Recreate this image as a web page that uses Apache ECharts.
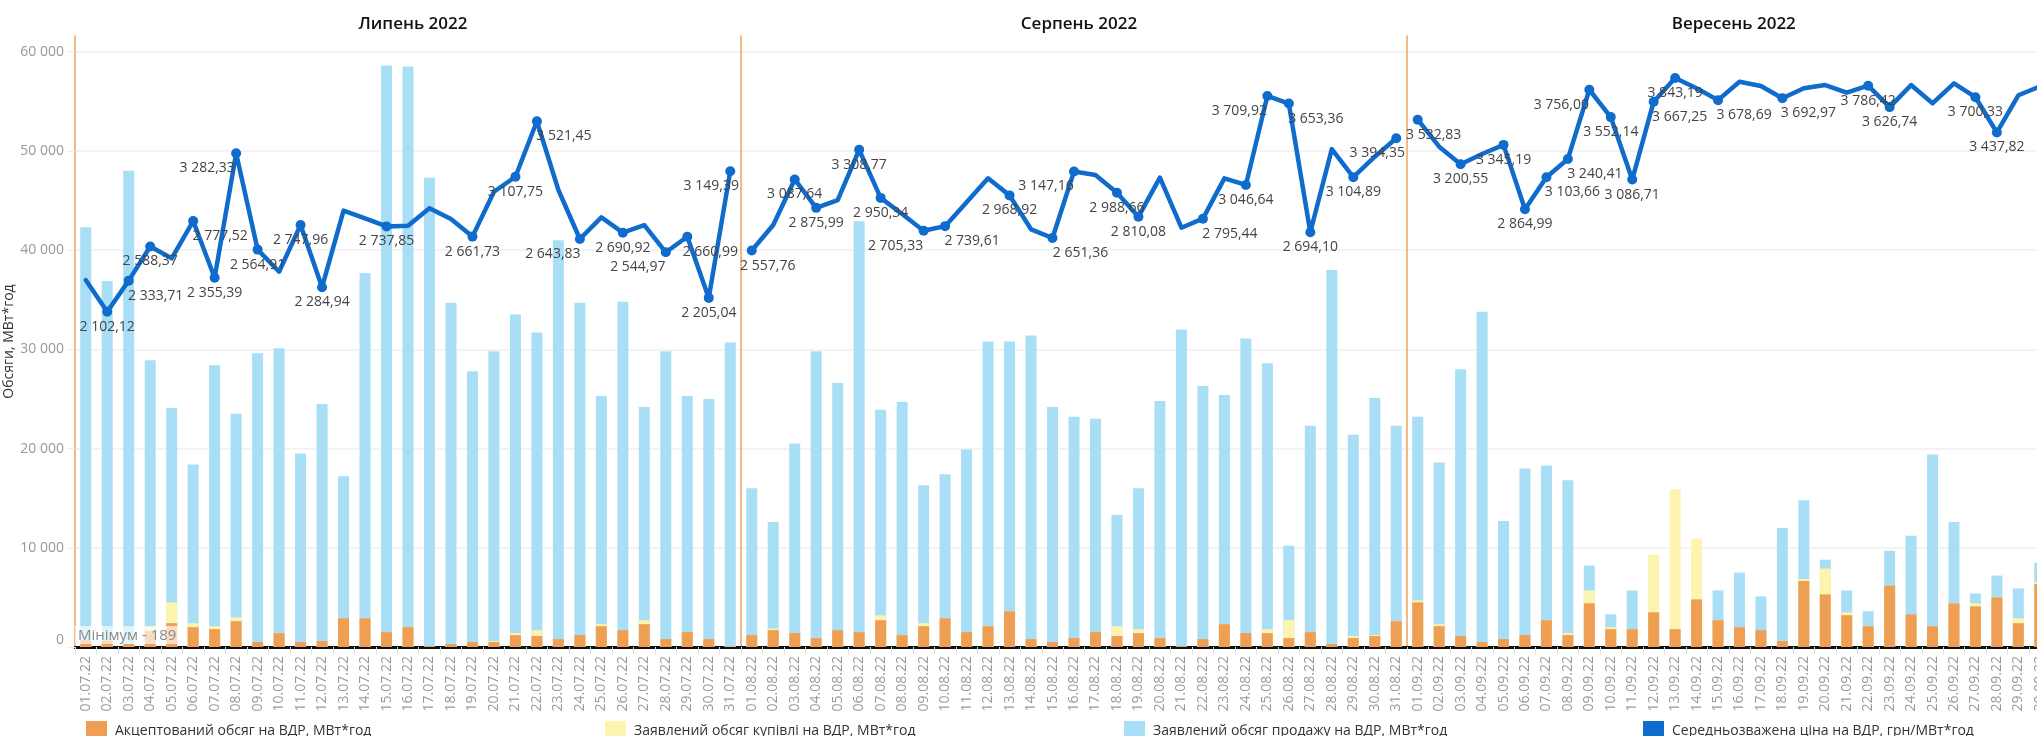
<!DOCTYPE html>
<html>
<head>
<meta charset="utf-8">
<title>ВДР, липень–вересень 2022</title>
<script src="https://cdn.jsdelivr.net/npm/echarts@6/dist/echarts.min.js"></script>
<style>
  html, body { margin: 0; padding: 0; background: #fff; }
  #chart { width: 2037px; height: 736px; }
</style>
</head>
<body>
<div id="chart"></div>
<script>
// --- дані ---
const monthTitles = ['Липень 2022', 'Серпень 2022', 'Вересень 2022'];

const dayLabels = (mm, n) =>
  Array.from({ length: n }, (_, i) => String(i + 1).padStart(2, '0') + '.' + mm + '.22');
const julyDays = dayLabels('07', 31);
const augDays = dayLabels('08', 31);
const sepDays = dayLabels('09', 30);

// Заявлений обсяг продажу, МВт*год
const julySell = [42300, 36900, 48000, 28900, 24100, 18400, 28400, 23500, 29600, 30100, 19500, 24500, 17200, 37700, 58600, 58500,
  47300, 34700, 27800, 29800, 33500, 31700, 41000, 34700, 25300, 34800, 24200, 29800, 25300, 25000, 30700];
const augSell = [16000, 12600, 20500, 29800, 26600, 42900, 23900, 24700, 16300, 17400, 19900, 30800, 30800, 31400, 24200, 23200,
  23000, 13300, 16000, 24800, 32000, 26300, 25400, 31100, 28600, 10200, 22300, 38000, 21400, 25100, 22300];
const sepSell = [23200, 18600, 28000, 33800, 12700, 18000, 18300, 16800, 8200, 3300, 5700, 3500, 1800, 4800, 5700, 7500,
  5100, 12000, 14800, 8800, 5700, 3600, 9700, 11200, 19400, 12600, 5400, 7200, 5900, 8500];

// Заявлений обсяг купівлі, МВт*год
const julyBuy = [700, 650, 300, 2050, 4500, 2400, 2100, 3000, 500, 1400, 500, 600, 2900, 2900, 1500, 2000,
  100, 300, 500, 600, 1400, 1700, 800, 1200, 2300, 1700, 2700, 800, 1500, 800, 50];
const augBuy = [1200, 1850, 1400, 900, 1700, 1500, 3200, 1200, 2400, 2900, 1500, 2100, 3600, 800, 500, 900,
  1500, 2100, 1800, 900, 100, 800, 2300, 1400, 1800, 2700, 1500, 300, 1100, 1200, 2600];
const sepBuy = [4700, 2300, 1100, 500, 800, 1200, 2700, 1400, 5700, 2000, 1800, 9300, 15900, 10900, 2700, 2000,
  1700, 600, 6850, 7900, 3500, 2100, 6200, 3300, 2100, 4400, 4400, 5000, 2900, 6550];

// Акцептований обсяг, МВт*год
const julyAccepted = [700, 650, 300, 1650, 2400, 2000, 1800, 2600, 500, 1400, 500, 600, 2900, 2900, 1500, 2000,
  100, 300, 500, 500, 1200, 1100, 800, 1200, 2100, 1700, 2300, 800, 1500, 800, 50];
const augAccepted = [1200, 1700, 1400, 900, 1700, 1500, 2700, 1200, 2100, 2900, 1500, 2100, 3600, 800, 500, 900,
  1500, 1100, 1400, 900, 100, 800, 2300, 1400, 1400, 900, 1500, 300, 900, 1100, 2600];
const sepAccepted = [4500, 2100, 1100, 500, 800, 1200, 2700, 1200, 4400, 1800, 1800, 3500, 1800, 4800, 2700, 2000,
  1700, 600, 6650, 5300, 3200, 2100, 6200, 3300, 2100, 4400, 4100, 5000, 2400, 6350];

// Середньозважена ціна, грн/МВт*год
const julyPrice = [2338, 2102.12, 2333.71, 2588.37, 2500, 2777.52, 2355.39, 3282.33, 2564.91, 2400, 2747.96, 2284.94, 2855, 2798,
  2737.85, 2743, 2873, 2793, 2661.73, 2996, 3107.75, 3521.45, 3009, 2643.83, 2805, 2690.92, 2748, 2544.97, 2660.99, 2205.04, 3149.39];
const augPrice = [2557.76, 2748, 3087.64, 2875.99, 2934, 3308.77, 2950.34, 2830, 2705.33, 2739.61, 2917, 3096, 2968.92, 2716,
  2651.36, 3147.16, 3121, 2988.66, 2810.08, 3101, 2728, 2795.44, 3096, 3046.64, 3709.92, 3653.36, 2694.10, 3314, 3104.89, 3257, 3394.35];
const sepPrice = [3532.83, 3332, 3200.55, 3277, 3345.19, 2864.99, 3103.66, 3240.41, 3756.00, 3552.14, 3086.71, 3667.25, 3843.19, 3767,
  3678.69, 3816, 3784, 3692.97, 3767, 3791, 3734, 3786.42, 3626.74, 3791, 3655, 3804, 3700.33, 3437.82, 3715, 3780];

const minLabel = 'Мінімум - 189';
const minValue = 189;

// --- оформлення ---
const N_ACC = 'Акцептований обсяг на ВДР, МВт*год';
const N_BUY = 'Заявлений обсяг купівлі на ВДР, МВт*год';
const N_SELL = 'Заявлений обсяг продажу на ВДР, МВт*год';
const N_PRICE = 'Середньозважена ціна на ВДР, грн/МВт*год';

const C_ACC = '#ee9f53';
const C_BUY = '#fdf4b0';
const C_SELL = '#a8dff7';
const C_LINE = '#0f6ccc';
const C_DIV = '#f1a35c';
const FONT = '"Open Sans", "Noto Sans", sans-serif';

// які точки ціни підписані, і зсув підпису по x
const labelDx = {
  '02.07.22': 0, '03.07.22': 27, '04.07.22': 0, '06.07.22': 27, '07.07.22': 0, '08.07.22': -29, '09.07.22': 0,
  '11.07.22': 0, '12.07.22': 0, '15.07.22': 0, '19.07.22': 0, '21.07.22': 0, '22.07.22': 27, '24.07.22': -27,
  '26.07.22': 0, '28.07.22': -28, '29.07.22': 23, '30.07.22': 0, '31.07.22': -19,
  '01.08.22': 16, '03.08.22': 0, '04.08.22': 0, '06.08.22': 0, '07.08.22': 0, '09.08.22': -28, '10.08.22': 27,
  '13.08.22': 0, '15.08.22': 28, '16.08.22': -28, '18.08.22': 0, '19.08.22': 0, '22.08.22': 27, '24.08.22': 0,
  '25.08.22': -28, '26.08.22': 27, '27.08.22': 0, '29.08.22': 0, '31.08.22': -19,
  '01.09.22': 16, '03.09.22': 0, '05.09.22': 0, '06.09.22': 0, '07.09.22': 26, '08.09.22': 27, '09.09.22': -28,
  '10.09.22': 0, '11.09.22': 0, '12.09.22': 26, '13.09.22': 0, '15.09.22': 26, '18.09.22': 26, '22.09.22': 0,
  '23.09.22': 0, '27.09.22': 0, '28.09.22': 0
};

const fmt = (v, d) => {
  const parts = v.toFixed(d).split('.');
  const s = parts[0].replace(/\B(?=(\d{3})+(?!\d))/g, ' ');
  return parts[1] ? s + ',' + parts[1] : s;
};

const panes = [
  { title: monthTitles[0], days: julyDays, sell: julySell, buy: julyBuy, acc: julyAccepted, price: julyPrice, left: 75, width: 666 },
  { title: monthTitles[1], days: augDays, sell: augSell, buy: augBuy, acc: augAccepted, price: augPrice, left: 741, width: 666 },
  { title: monthTitles[2], days: sepDays, sell: sepSell, buy: sepBuy, acc: sepAccepted, price: sepPrice, left: 1407, width: 643.5 }
];

const TOP = 36, BOTTOM = 89;
const VOL_MAX = 61580;
const PRICE_MIN = -396.4, PRICE_MAX = 4156.6;

const grid = [], xAxis = [], yAxis = [], series = [], title = [];

panes.forEach((p, i) => {
  grid.push({ left: p.left, width: p.width, top: TOP, bottom: BOTTOM, outerBoundsMode: 'none', containLabel: false });

  title.push({
    text: p.title,
    left: p.left + p.width / 2,
    top: 11,
    textAlign: 'center',
    textStyle: { fontFamily: FONT, fontSize: 17, fontWeight: 600, color: '#111' }
  });

  xAxis.push({
    type: 'category',
    gridIndex: i,
    data: p.days,
    axisLine: { show: true, lineStyle: { color: '#111', width: 3 } },
    axisTick: { show: true, length: 8, lineStyle: { color: '#e4e4e4' } },
    axisLabel: { interval: 0, rotate: 90, margin: 9, color: '#999', fontSize: 14, fontFamily: FONT }
  });

  yAxis.push({
    type: 'value',
    gridIndex: i,
    min: 0,
    max: VOL_MAX,
    interval: 10000,
    name: i === 0 ? 'Обсяги, МВт*год' : '',
    nameLocation: 'middle',
    nameRotate: 90,
    nameGap: 55,
    nameTextStyle: { color: '#333', fontSize: 14, fontFamily: FONT },
    axisLine: { show: true, lineStyle: { color: C_DIV, width: 1.5 } },
    axisTick: { show: i === 0, length: 8, lineStyle: { color: '#eee' } },
    axisLabel: {
      show: i === 0,
      showMaxLabel: false,
      verticalAlignMinLabel: 'bottom',
      margin: 11,
      color: '#999',
      fontSize: 14,
      fontFamily: FONT,
      formatter: v => fmt(v, 0)
    },
    splitLine: { show: true, showMaxLine: false, showMinLine: false, lineStyle: { color: '#efefef', width: 1.5 } }
  });

  yAxis.push({
    type: 'value',
    gridIndex: i,
    min: PRICE_MIN,
    max: PRICE_MAX,
    show: false,
    splitLine: { show: false }
  });

  const barBase = { type: 'bar', xAxisIndex: i, yAxisIndex: 2 * i, barWidth: 11, barGap: '-100%' };

  series.push(Object.assign({ name: N_SELL, data: p.sell, itemStyle: { color: C_SELL }, z: 2 }, barBase));
  series.push(Object.assign({ name: N_BUY, data: p.buy, itemStyle: { color: C_BUY }, z: 2 }, barBase));

  const acc = Object.assign({ name: N_ACC, data: p.acc, itemStyle: { color: C_ACC }, z: 2 }, barBase);
  if (i === 0) {
    acc.markLine = {
      silent: true,
      symbol: 'none',
      z: 10,
      data: [{ yAxis: minValue }],
      lineStyle: { color: 'rgba(0,0,0,0)', width: 1, type: 'solid' },
      label: {
        show: true,
        position: 'insideStartTop',
        formatter: minLabel,
        distance: [0, 1],
        color: '#8a8a8a',
        fontSize: 15,
        fontFamily: FONT,
        backgroundColor: 'rgba(255,255,255,0.65)',
        padding: [2, 8, 1, 3]
      }
    };
  }
  series.push(acc);

  series.push({
    name: N_PRICE,
    type: 'line',
    xAxisIndex: i,
    yAxisIndex: 2 * i + 1,
    symbol: 'circle',
    showSymbol: true,
    showAllSymbol: true,
    lineStyle: { color: C_LINE, width: 4.5, join: 'round', cap: 'round' },
    itemStyle: { color: C_LINE },
    label: {
      position: 'bottom',
      distance: 3,
      color: '#444',
      fontSize: 14,
      fontFamily: FONT,
      formatter: d => fmt(d.value, 2)
    },
    z: 5,
    data: p.price.map((v, j) => {
      const dx = labelDx[p.days[j]];
      const shown = dx !== undefined;
      return { value: v, symbolSize: shown ? 10 : 0, label: { show: shown, offset: [dx || 0, 0] } };
    })
  });
});

const legendItem = (name, left) => ({
  data: [name],
  left: left,
  top: 716,
  icon: 'rect',
  itemWidth: 21,
  itemHeight: 20,
  selectedMode: false,
  textStyle: { color: '#333', fontSize: 14, fontFamily: FONT, padding: [0, 0, 0, 3] }
});

const chart = echarts.init(document.getElementById('chart'), null, { renderer: 'canvas' });
chart.setOption({
  animation: false,
  backgroundColor: '#fff',
  title: title,
  legend: [
    legendItem(N_ACC, 81),
    legendItem(N_BUY, 600),
    legendItem(N_SELL, 1119),
    legendItem(N_PRICE, 1638)
  ],
  grid: grid,
  xAxis: xAxis,
  yAxis: yAxis,
  series: series
});

window.addEventListener('resize', () => chart.resize());
</script>
</body>
</html>
